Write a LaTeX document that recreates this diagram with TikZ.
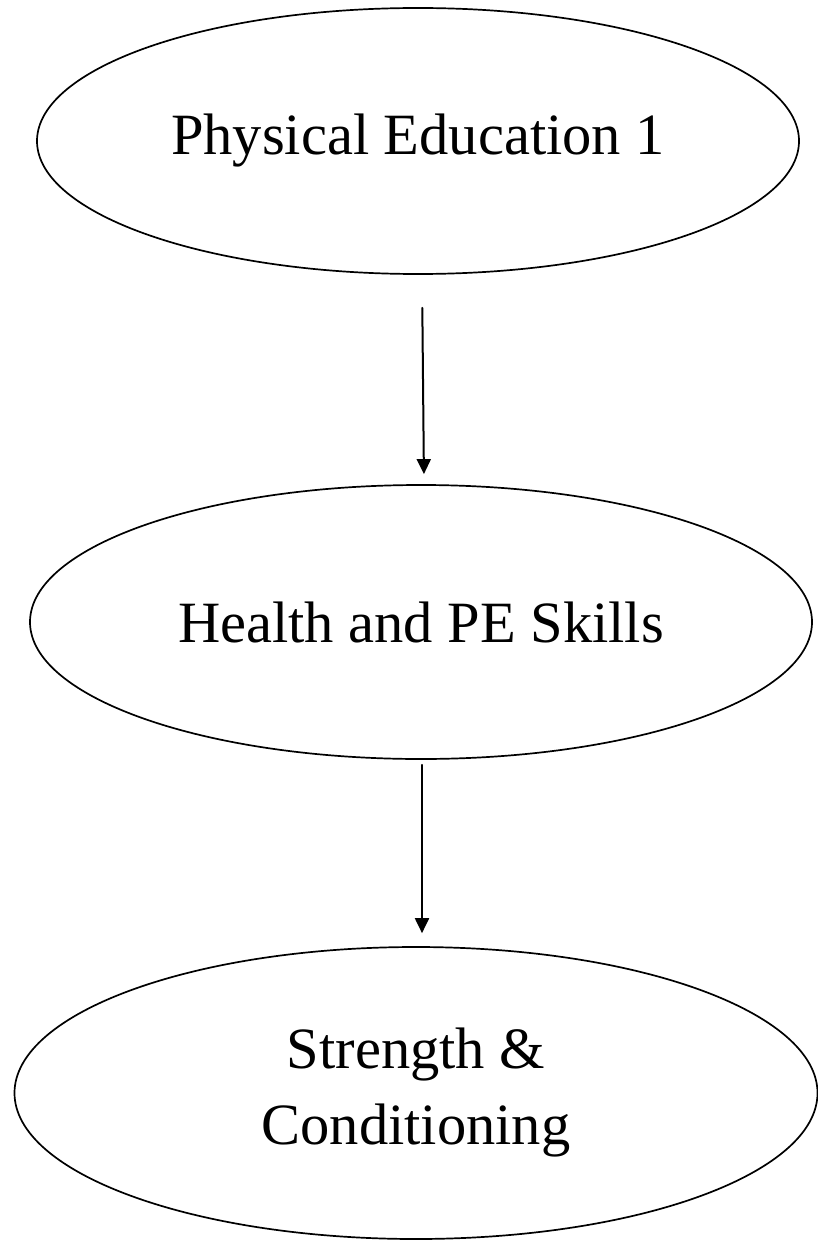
\documentclass[tikz,border=0pt]{standalone}
\usepackage{fontspec}
\setmainfont{Liberation Serif}
\usetikzlibrary{arrows.meta,shapes.geometric}

\begin{document}
\begin{tikzpicture}[x=1pt, y=1pt, line cap=round, line join=round,
  >={Triangle[length=15pt,width=14pt]},
  course/.style={ellipse, draw, line width=1.7pt, inner sep=0pt, align=center,
    font=\fontsize{58.5}{76}\selectfont}]

\useasboundingbox (0,0) rectangle (817,-1249);

\node[course, minimum width=762pt, minimum height=266pt] (pe) at (418,-141) {Physical Education 1};
\node[course, minimum width=782pt, minimum height=274pt] (health) at (421,-622) {Health and PE Skills};
\node[course, minimum width=803pt, minimum height=292pt] (strength) at (416,-1093) {Strength \&\\Conditioning};

\draw[->, line width=2pt, shorten <=33pt, shorten >=10pt] ([xshift=4pt]pe.south) -- ([xshift=3pt]health.north);
\draw[->, line width=2pt, shorten <=5pt, shorten >=13pt] ([xshift=1pt]health.south) -- ([xshift=6pt]strength.north);

\end{tikzpicture}
\end{document}
